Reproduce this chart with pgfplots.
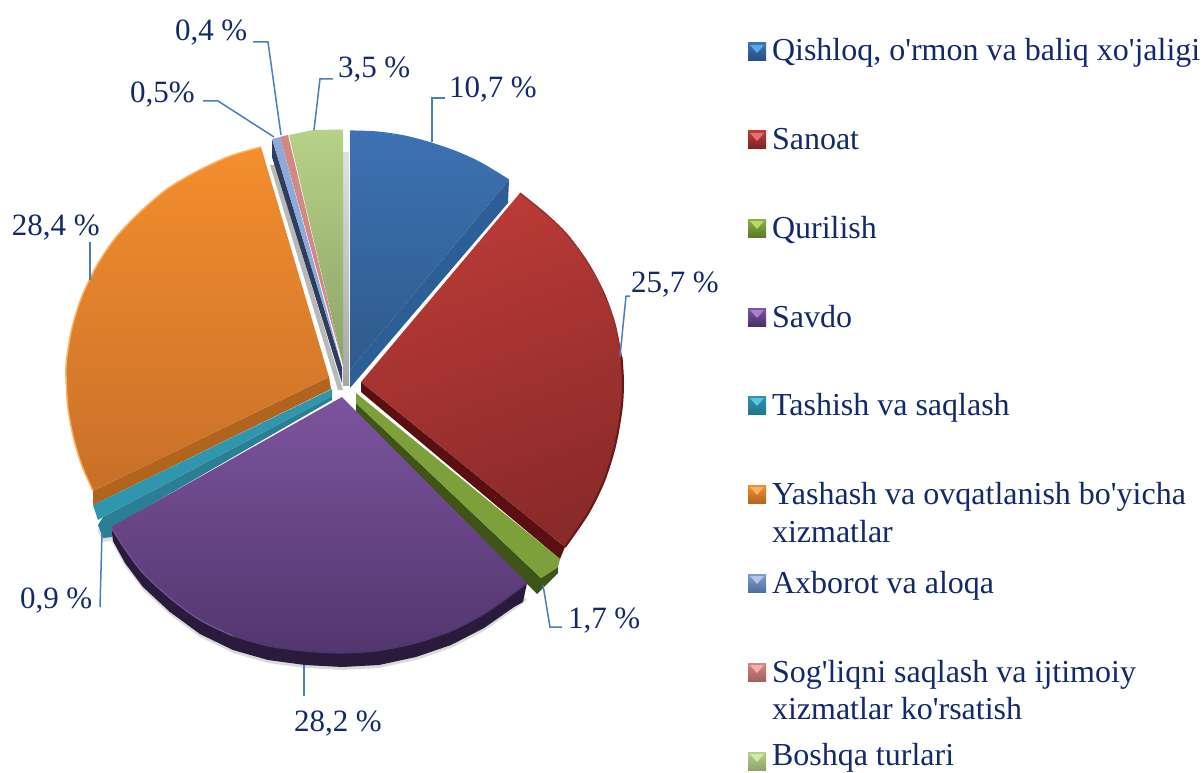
\documentclass[border=0pt]{standalone}
\usepackage{pgfplots}
\pgfplotsset{compat=1.18}
\usepackage{fontspec}
\newfontfamily\nm{Liberation Serif}
\definecolor{txt}{HTML}{12296A}
\definecolor{lead}{HTML}{4A7EBB}
\newcommand\dc[1]{\definecolor{HTML#1}{HTML}{#1}}
\dc{2C5F95}\dc{5A0F10}\dc{2A1A3C}\dc{2A7F95}\dc{B0641E}\dc{3F5418}\dc{2E3E5C}\dc{3C72B2}\dc{2F5A8C}\dc{BB3B37}\dc{8A2A2A}\dc{7EA03A}\dc{7D549E}\dc{52366E}\dc{2F96AE}\dc{F48E2E}\dc{C87029}\dc{8EAADB}\dc{D38885}\dc{B7D187}\dc{8DA468}\dc{FAB468}\dc{651818}\dc{254E80}\dc{7A2525}\dc{8DB044}\dc{5B7A28}\dc{4A3068}\dc{21758A}\dc{B5651E}\dc{7F9FCF}\dc{4F6F9F}\dc{A55E5C}\dc{5EA8E8}\dc{E87070}\dc{B6DC62}\dc{A880D0}\dc{5CC4DC}\dc{FFB060}\dc{B0C8EC}\dc{F0B0AE}\dc{D4E8AC}\dc{76569A}
\tikzset{lab/.style={anchor=base west,text=txt,font=\nm\fontsize{31}{31}\selectfont,inner sep=0pt,outer sep=0pt},
  leg/.style={anchor=base west,text=txt,font=\nm\fontsize{32}{32}\selectfont,inner sep=0pt,outer sep=0pt}}
\pgfplotsset{sq/.style 2 args={draw=none,top color=#1,bottom color=#2},tri/.style={draw=none,fill=#1}}
\begin{document}
\begin{tikzpicture}
\useasboundingbox (0,0) rectangle (1203pt,773pt);
\begin{axis}[at={(0,0)},anchor=south west,scale only axis,width=1203pt,height=773pt,
  xmin=0,xmax=1203,ymin=0,ymax=773,y dir=reverse,axis lines=none,clip=false,no markers]
% soft shadows
\addplot[draw=none,fill=black!14] coordinates {(527,600)(514,610)(484,631)(451,648)(416,660)(379,668)(342,670)(305,668)(268,663)(233,653)(200,637)(170,615)(143,590)(125,566)(108,535)(342,410)};
\addplot[draw=none,fill=black!12] coordinates {(97,530)(104,542)(115,540)(110,525)};
\addplot[draw=none,top color=black!12,bottom color=black!35] coordinates {(343,153)(349,153)(349,385)(343,385)};
\addplot[draw=none,fill=black!28] coordinates {(270,165)(275,165)(343,390)(338,390)};
% side faces
\addplot[draw=none,fill=HTML2C5F95] coordinates {(509,180)(508,203)(350,388)(350,370)};
\addplot[draw=none,fill=HTML5A0F10] coordinates {(361,382)(361,392)(560,559)(565,547)};
\addplot[draw=none,fill=HTML2A1A3C] coordinates {(527,583)(523,602)(514,607)(484,628)(451,645)(416,657)(379,665)(342,667)(305,665)(268,660)(233,650)(200,634)(170,612)(143,587)(125,563)(113,541)(111,527)(342,400)};
\addplot[draw=none,fill=HTML2A7F95] coordinates {(103,517)(332,396)(332,400)(112,527)(112,537)(103,538)(98,525)};
\addplot[draw=none,fill=HTMLB0641E] coordinates {(93,491)(329,377)(331,389)(93,505)};
\addplot[draw=none,fill=HTML3F5418] coordinates {(356,403)(541,578)(558,567)(558,573)(537,594)(356,412)};
\addplot[draw=none,fill=HTML2E3E5C] coordinates {(272,139)(272,157)(342,383)(342,367)};
% top faces
\addplot[draw=none,top color=HTML3C72B2,bottom color=HTML2F5A8C] coordinates {(350,370)(350,131)(377,132)(404.5,136)(431,143)(457,152)(481,163)(509,180)};
\addplot[draw=none,top color=HTMLBB3B37,bottom color=HTML8A2A2A,shading angle=20] coordinates {(361,382)(520,193)(546,214)(567.5,235)(588,263)(604,293)(615,324)(621.5,357)(623,382)(621.5,409.5)(615,446)(604,481)(588,513.5)(565,547)};
\addplot[draw=none,fill=HTML7EA03A] coordinates {(356,393)(560,559)(558,567)(541,578)(356,403)};
\addplot[draw=none,top color=HTML7D549E,bottom color=HTML52366E] coordinates {(342,397)(527,583)(514,593)(484,614)(451,631)(416,643)(379,650.5)(342,653)(305,651)(268,646)(233,636)(200,620)(170,598)(143,573)(125,549)(111,527)};
\addplot[draw=none,fill=HTML2F96AE] coordinates {(93,505)(332,389)(332,396)(103,517)(98,520)};
\addplot[draw=none,top color=HTMLF48E2E,bottom color=HTMLC87029] coordinates {(329,377)(261,147)(230,156)(197.5,171)(167,189)(140,212)(116,237)(97,265)(82,296)(72,327.5)(66.5,360)(66,377)(68,409)(74,440)(82,466)(93,491)};
\addplot[draw=none,fill=HTML8EAADB] coordinates {(272,139)(280,137)(342,367)};
\addplot[draw=none,fill=HTMLD38885] coordinates {(280,137)(288,135)(343,365)};
\addplot[draw=none,top color=HTMLB7D187,bottom color=HTML8DA468] coordinates {(289,135)(313,130)(343,129.5)(343,365)};
% rims
\addplot[draw=HTMLFAB468,line width=1.5pt,smooth] coordinates {(261,147)(230,156)(197.5,171)(167,189)(140,212)(116,237)(97,265)(82,296)(72,327.5)(66.5,360)(66,377)(68,409)(74,440)(82,466)(93,491)};
\addplot[draw=HTML651818,line width=2pt,smooth] coordinates {(621.5,357)(623,382)(621.5,409.5)(615,446)(604,481)(588,513.5)(565,547)};
\addplot[draw=HTML8A2A2A,line width=1.2pt,smooth] coordinates {(520,193)(546,214)(567.5,235)(588,263)(604,293)(615,324)(621.5,357)};
\addplot[draw=HTML3C72B2,line width=1.2pt,smooth] coordinates {(350,131)(377,132)(404.5,136)(431,143)(457,152)(481,163)(509,180)};
\addplot[draw=HTML76569A,line width=1.2pt,smooth] coordinates {(111,527)(125,549)(143,573)(170,598)(200,620)(233,636)};
\addplot[draw=HTML52366E,line width=1.2pt,smooth] coordinates {(233,636)(268,646)(305,651)(342,653)(379,650.5)(416,643)(451,631)(484,614)(514,593)(527,583)};
% leaders
\addplot[draw=lead,line width=1.5pt] coordinates {(432,142)(432,98)(445,98)};
\addplot[draw=lead,line width=1.5pt] coordinates {(620,356)(626,296)(630,296)};
\addplot[draw=lead,line width=1.5pt] coordinates {(314,130)(320,79)(333,79)};
\addplot[draw=lead,line width=1.5pt] coordinates {(281,135)(268,42)(253,42)};
\addplot[draw=lead,line width=1.5pt] coordinates {(274,137)(218,101)(203,101)};
\addplot[draw=lead,line width=1.5pt] coordinates {(90,280)(90,242)};
\addplot[draw=lead,line width=1.5pt] coordinates {(102,533)(100,607)};
\addplot[draw=lead,line width=1.5pt] coordinates {(304,665)(304,696)};
\addplot[draw=lead,line width=1.5pt] coordinates {(543,585)(550,627)(562,627)};
% legend swatches
\addplot[sq={HTML3C72B2}{HTML254E80}] coordinates {(748,43)(766,43)(766,61)(748,61)};
\addplot[tri=HTML5EA8E8] coordinates {(750,45)(764,45)(757,53)};
\addplot[sq={HTMLBB3B37}{HTML7A2525}] coordinates {(748,131)(766,131)(766,149)(748,149)};
\addplot[tri=HTMLE87070] coordinates {(750,133)(764,133)(757,141)};
\addplot[sq={HTML8DB044}{HTML5B7A28}] coordinates {(748,219)(766,219)(766,237)(748,237)};
\addplot[tri=HTMLB6DC62] coordinates {(750,221)(764,221)(757,229)};
\addplot[sq={HTML7D549E}{HTML4A3068}] coordinates {(748,308)(766,308)(766,326)(748,326)};
\addplot[tri=HTMLA880D0] coordinates {(750,310)(764,310)(757,318)};
\addplot[sq={HTML2F96AE}{HTML21758A}] coordinates {(748,396)(766,396)(766,414)(748,414)};
\addplot[tri=HTML5CC4DC] coordinates {(750,398)(764,398)(757,406)};
\addplot[sq={HTMLF48E2E}{HTMLB5651E}] coordinates {(748,485)(766,485)(766,503)(748,503)};
\addplot[tri=HTMLFFB060] coordinates {(750,487)(764,487)(757,495)};
\addplot[sq={HTML7F9FCF}{HTML4F6F9F}] coordinates {(748,574)(766,574)(766,592)(748,592)};
\addplot[tri=HTMLB0C8EC] coordinates {(750,576)(764,576)(757,584)};
\addplot[sq={HTMLD38885}{HTMLA55E5C}] coordinates {(748,663)(766,663)(766,681)(748,681)};
\addplot[tri=HTMLF0B0AE] coordinates {(750,665)(764,665)(757,673)};
\addplot[sq={HTMLB7D187}{HTML8DA468}] coordinates {(748,752)(766,752)(766,770)(748,770)};
\addplot[tri=HTMLD4E8AC] coordinates {(750,754)(764,754)(757,762)};
% labels
\node[lab] at (axis cs:449,98) {10,7 \%};
\node[lab] at (axis cs:631,292) {25,7 \%};
\node[lab] at (axis cs:568,628) {1,7 \%};
\node[lab] at (axis cs:294,731) {28,2 \%};
\node[lab] at (axis cs:20,608) {0,9 \%};
\node[lab] at (axis cs:12,235) {28,4 \%};
\node[lab] at (axis cs:130,103) {0,5\%};
\node[lab] at (axis cs:175,41) {0,4 \%};
\node[lab] at (axis cs:338,78) {3,5 \%};
\node[leg] at (axis cs:772,61) {Qishloq, o'rmon va baliq xo'jaligi};
\node[leg] at (axis cs:772,150) {Sanoat};
\node[leg] at (axis cs:772,238) {Qurilish};
\node[leg] at (axis cs:772,327) {Savdo};
\node[leg] at (axis cs:772,415) {Tashish va saqlash};
\node[leg] at (axis cs:772,504) {Yashash va ovqatlanish bo'yicha};
\node[leg] at (axis cs:772,542) {xizmatlar};
\node[leg] at (axis cs:772,593) {Axborot va aloqa};
\node[leg] at (axis cs:772,682) {Sog'liqni saqlash va ijtimoiy};
\node[leg] at (axis cs:772,719) {xizmatlar ko'rsatish};
\node[leg] at (axis cs:772,765.5) {Boshqa turlari};
\end{axis}
\end{tikzpicture}
\end{document}
